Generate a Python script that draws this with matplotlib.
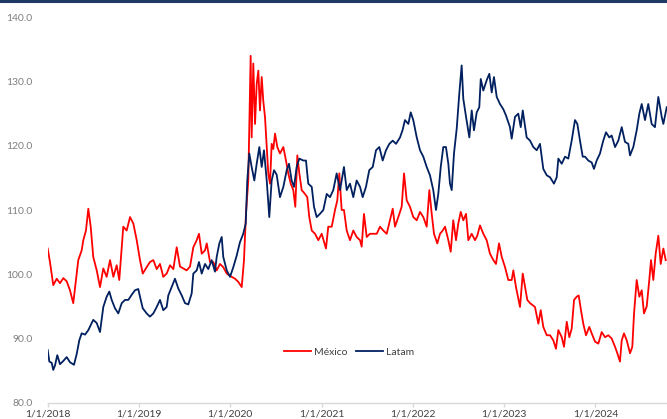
import matplotlib
matplotlib.use("Agg")
import matplotlib.pyplot as plt
import matplotlib.dates as mdates
from matplotlib.lines import Line2D
import pandas as pd

# time in years since 1/1/2018 (decimal)
mexico_t = [0.000, 0.025, 0.061, 0.099, 0.135, 0.171, 0.208, 0.244, 0.280, 0.299,
            0.335, 0.372, 0.390, 0.419, 0.445, 0.471, 0.499, 0.537, 0.573, 0.609,
            0.646, 0.683, 0.719, 0.756, 0.784, 0.828, 0.865, 0.902, 0.938, 0.975,
            1.011, 1.041, 1.084, 1.120, 1.157, 1.194, 1.230, 1.266, 1.303, 1.340,
            1.376, 1.413, 1.449, 1.485, 1.522, 1.559, 1.595, 1.632, 1.657, 1.687,
            1.723, 1.742, 1.778, 1.814, 1.851, 1.887, 1.923, 1.961, 2.015, 2.052,
            2.088, 2.125, 2.150, 2.172, 2.197, 2.223, 2.234, 2.252, 2.271, 2.289,
            2.307, 2.325, 2.344, 2.361, 2.380, 2.399, 2.416, 2.435, 2.453, 2.471,
            2.490, 2.515, 2.544, 2.581, 2.610, 2.635, 2.662, 2.690, 2.712, 2.734,
            2.756, 2.782, 2.818, 2.843, 2.865, 2.892, 2.928, 2.964, 3.001, 3.048,
            3.073, 3.111, 3.147, 3.172, 3.194, 3.220, 3.245, 3.275, 3.311, 3.347,
            3.384, 3.421, 3.439, 3.464, 3.494, 3.530, 3.566, 3.604, 3.640, 3.676,
            3.713, 3.749, 3.779, 3.804, 3.840, 3.877, 3.903, 3.932, 3.968, 4.004,
            4.042, 4.078, 4.114, 4.151, 4.180, 4.206, 4.231, 4.267, 4.297, 4.326,
            4.352, 4.388, 4.414, 4.442, 4.472, 4.497, 4.524, 4.552, 4.582, 4.607,
            4.644, 4.680, 4.705, 4.735, 4.771, 4.808, 4.844, 4.881, 4.910, 4.943,
            4.973, 5.009, 5.045, 5.082, 5.100, 5.129, 5.173, 5.203, 5.228, 5.253,
            5.283, 5.337, 5.374, 5.400, 5.428, 5.466, 5.502, 5.538, 5.567, 5.593,
            5.630, 5.655, 5.685, 5.713, 5.739, 5.765, 5.794, 5.816, 5.841, 5.866,
            5.896, 5.932, 5.958, 5.995, 6.031, 6.068, 6.104, 6.140, 6.177, 6.214,
            6.239, 6.268, 6.287, 6.312, 6.342, 6.378, 6.403, 6.422, 6.451, 6.480,
            6.506, 6.531, 6.561, 6.589, 6.608, 6.633, 6.659, 6.688, 6.714, 6.743,
            6.769]
mexico_v = [104.0, 101.9, 98.3, 99.3, 98.6, 99.4, 98.9, 97.5, 95.5, 97.8,
            102.2, 103.7, 105.3, 106.8, 110.2, 107.4, 102.7, 100.6, 98.0, 100.9,
            99.6, 102.2, 99.6, 101.4, 99.1, 107.4, 106.8, 108.9, 107.9, 105.3,
            102.2, 100.1, 101.1, 101.9, 102.2, 100.8, 101.6, 99.6, 100.1, 101.4,
            100.8, 104.2, 101.2, 100.9, 100.6, 101.2, 104.2, 105.3, 106.3, 103.2,
            103.7, 104.8, 101.9, 101.9, 100.6, 101.6, 101.1, 100.1, 99.6, 99.3,
            98.8, 98.0, 102.2, 109.5, 114.6, 134.0, 121.3, 132.8, 123.4, 129.6,
            131.7, 125.5, 130.7, 127.0, 124.5, 119.8, 115.7, 114.1, 120.3, 119.5,
            121.9, 119.8, 118.8, 119.8, 117.7, 115.7, 114.1, 113.1, 110.5, 118.5,
            115.7, 113.1, 112.5, 112.0, 108.9, 106.8, 106.3, 105.3, 106.3, 104.0,
            107.4, 107.4, 110.0, 111.5, 115.7, 110.0, 110.0, 106.8, 105.3, 106.8,
            105.8, 105.3, 104.3, 109.4, 105.8, 106.3, 106.3, 106.3, 107.4, 106.8,
            106.3, 108.4, 110.2, 107.4, 108.9, 110.5, 115.7, 111.5, 110.5, 108.9,
            108.4, 109.7, 108.9, 107.4, 113.1, 109.4, 106.3, 104.8, 106.3, 106.8,
            107.4, 105.3, 103.5, 108.4, 105.3, 107.9, 109.7, 108.4, 109.4, 105.3,
            106.3, 105.3, 106.0, 107.6, 106.3, 105.3, 103.2, 102.2, 101.6, 104.8,
            102.7, 101.1, 99.1, 99.1, 100.6, 98.0, 94.9, 100.1, 98.0, 96.0,
            95.5, 94.9, 92.3, 94.4, 91.8, 90.5, 90.5, 89.7, 88.4, 91.3,
            90.2, 88.7, 92.6, 90.2, 91.5, 96.0, 96.5, 96.7, 94.4, 92.3,
            90.5, 91.8, 90.8, 89.5, 89.2, 91.0, 90.2, 90.5, 90.0, 88.7,
            87.7, 86.4, 89.7, 90.8, 89.7, 87.7, 88.7, 93.9, 99.1, 96.5,
            97.5, 93.9, 95.0, 99.1, 102.2, 99.1, 103.2, 106.0, 101.6, 104.0,
            102.2]

latam_t = [0.000, 0.018, 0.044, 0.061, 0.080, 0.105, 0.135, 0.171, 0.208, 0.244,
           0.288, 0.318, 0.346, 0.372, 0.409, 0.445, 0.499, 0.537, 0.573, 0.609,
           0.646, 0.675, 0.701, 0.737, 0.773, 0.811, 0.847, 0.883, 0.920, 0.956,
           0.992, 1.011, 1.041, 1.084, 1.120, 1.157, 1.194, 1.230, 1.266, 1.303,
           1.321, 1.358, 1.394, 1.430, 1.468, 1.504, 1.540, 1.577, 1.595, 1.632,
           1.657, 1.687, 1.723, 1.759, 1.796, 1.832, 1.851, 1.880, 1.906, 1.923,
           1.961, 1.997, 2.033, 2.070, 2.106, 2.142, 2.169, 2.186, 2.208, 2.234,
           2.263, 2.289, 2.318, 2.344, 2.369, 2.399, 2.427, 2.453, 2.479, 2.508,
           2.544, 2.581, 2.618, 2.643, 2.672, 2.698, 2.727, 2.756, 2.800, 2.829,
           2.854, 2.892, 2.917, 2.946, 2.982, 3.019, 3.056, 3.092, 3.128, 3.165,
           3.202, 3.245, 3.275, 3.311, 3.347, 3.384, 3.421, 3.450, 3.486, 3.522,
           3.560, 3.596, 3.632, 3.669, 3.705, 3.742, 3.779, 3.815, 3.859, 3.888,
           3.913, 3.950, 3.976, 4.004, 4.042, 4.078, 4.114, 4.151, 4.187, 4.223,
           4.253, 4.278, 4.305, 4.333, 4.362, 4.388, 4.406, 4.425, 4.450, 4.480,
           4.508, 4.534, 4.552, 4.582, 4.618, 4.644, 4.669, 4.699, 4.727, 4.743,
           4.771, 4.808, 4.837, 4.863, 4.888, 4.918, 4.954, 4.990, 5.020, 5.063,
           5.082, 5.118, 5.154, 5.181, 5.203, 5.246, 5.283, 5.319, 5.356, 5.392,
           5.428, 5.466, 5.502, 5.545, 5.575, 5.593, 5.630, 5.666, 5.702, 5.739,
           5.775, 5.801, 5.830, 5.860, 5.885, 5.921, 5.958, 5.983, 6.013, 6.049,
           6.085, 6.115, 6.151, 6.177, 6.214, 6.250, 6.287, 6.323, 6.359, 6.378,
           6.414, 6.451, 6.480, 6.506, 6.542, 6.578, 6.615, 6.651, 6.688, 6.725,
           6.743, 6.780]
latam_v = [88.2, 86.4, 86.2, 85.1, 85.8, 87.4, 86.0, 86.5, 87.1, 86.3,
           85.9, 87.6, 89.7, 90.8, 90.6, 91.3, 92.9, 92.4, 91.0, 94.9,
           96.5, 97.3, 96.0, 94.7, 93.9, 95.5, 96.0, 96.0, 96.8, 97.5,
           97.7, 96.5, 94.7, 93.9, 93.4, 93.9, 94.9, 96.0, 94.4, 94.9,
           96.7, 98.0, 99.3, 97.8, 96.7, 95.5, 95.3, 97.0, 100.1, 100.6,
           101.9, 100.1, 101.6, 100.8, 102.2, 100.4, 102.7, 104.8, 105.8, 102.7,
           100.6, 99.6, 101.1, 102.9, 105.0, 106.3, 107.9, 114.6, 118.8, 116.7,
           114.6, 117.2, 119.8, 116.7, 119.3, 114.6, 108.9, 114.6, 116.2, 115.5,
           112.0, 113.6, 116.2, 117.2, 114.6, 113.6, 116.7, 118.0, 117.7, 117.7,
           114.1, 113.6, 110.5, 108.9, 109.4, 110.0, 112.5, 112.0, 113.1, 115.7,
           113.1, 116.7, 113.1, 114.1, 112.0, 114.6, 113.6, 112.0, 113.6, 116.2,
           116.7, 119.3, 119.8, 117.7, 119.3, 120.3, 120.8, 120.3, 121.3, 122.5,
           124.0, 123.4, 125.2, 124.0, 121.3, 119.3, 118.3, 116.7, 115.4, 113.1,
           110.0, 112.5, 116.7, 119.8, 119.8, 117.2, 114.1, 113.1, 118.8, 122.7,
           128.1, 132.5, 127.3, 124.5, 121.3, 125.5, 122.4, 125.2, 126.0, 130.4,
           128.6, 130.2, 131.2, 128.3, 130.7, 127.6, 126.5, 125.7, 124.7, 122.9,
           121.1, 124.5, 125.0, 122.9, 125.5, 121.3, 120.8, 119.8, 119.3, 120.3,
           116.4, 115.4, 115.1, 114.1, 115.1, 118.0, 117.2, 118.3, 118.0, 120.8,
           124.0, 123.4, 120.8, 118.3, 118.3, 117.7, 117.4, 116.4, 117.7, 118.8,
           120.8, 122.1, 121.3, 121.6, 119.8, 120.8, 122.9, 120.6, 120.3, 118.5,
           119.8, 122.4, 125.0, 126.5, 124.0, 126.5, 123.4, 122.9, 127.6, 124.5,
           123.4, 126.0]

series_names = ["México", "Latam"]
y_ticks = [80.0, 90.0, 100.0, 110.0, 120.0, 130.0, 140.0]
x_tick_years = [2018, 2019, 2020, 2021, 2022, 2023, 2024]

base = pd.Timestamp("2018-01-01")
def to_dates(ts):
    return [base + pd.to_timedelta(t * 365.25, unit="D") for t in ts]

plt.rcParams["font.family"] = ["Lato", "DejaVu Sans"]

fig = plt.figure(figsize=(6.67, 4.19), dpi=100)
ax = fig.add_axes([0.0715, 0.0389, 0.9285, 0.9198])

ax.plot(to_dates(mexico_t), mexico_v, color="#FF0000", lw=1.3, label=series_names[0])
ax.plot(to_dates(latam_t), latam_v, color="#002060", lw=1.3, label=series_names[1])

ax.set_ylim(80, 140)
ax.set_yticks(y_ticks)
ax.set_yticklabels([f"{v:.1f}" for v in y_ticks])
ax.set_xlim(base, base + pd.to_timedelta(6.783 * 365.25, unit="D"))
xt = [pd.Timestamp(f"{y}-01-01") for y in x_tick_years]
ax.set_xticks(xt)
ax.set_xticklabels([f"{d.month}/{d.day}/{d.year}" for d in xt])

for s in ["top", "right", "left"]:
    ax.spines[s].set_visible(False)
ax.spines["bottom"].set_color("#D9D9D9")
ax.spines["bottom"].set_linewidth(1.0)
ax.tick_params(axis="y", length=0, pad=11, labelsize=7.5, labelcolor="#7F7F7F")
ax.tick_params(axis="x", length=3, width=1.0, color="#D9D9D9", pad=2,
               labelsize=7.5, labelcolor="#404040")

leg = fig.legend(loc="center", bbox_to_anchor=(0.523, 0.160), ncol=2, frameon=False,
                 fontsize=7.5, handlelength=2.6, handletextpad=0.3, columnspacing=0.8)
for t in leg.get_texts():
    t.set_color("#404040")

fig.add_artist(Line2D([0, 1], [0.9975, 0.9975], transform=fig.transFigure,
                      color="#1F3864", lw=2.2))

fig.savefig("out.png", dpi=100)
